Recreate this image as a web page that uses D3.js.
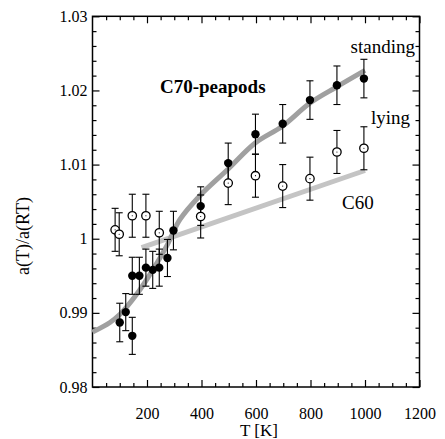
<!DOCTYPE html>
<html><head><meta charset="utf-8"><script src="https://cdn.jsdelivr.net/npm/d3@7"></script>
<style>
  @font-face {
    font-family: "ChartSerif";
    src: local("Liberation Serif"), local("LiberationSerif"), local("LiberationSerif-Regular"),
         url("file:///usr/share/fonts/truetype/liberation/LiberationSerif-Regular.ttf");
    font-weight: normal;
  }
  @font-face {
    font-family: "ChartSerif";
    src: local("Liberation Serif Bold"), local("LiberationSerif-Bold"),
         url("file:///usr/share/fonts/truetype/liberation/LiberationSerif-Bold.ttf");
    font-weight: bold;
  }
  #chart text { font-family: "Liberation Serif", "ChartSerif", "Times New Roman", Times, "DejaVu Serif", serif; }
</style>
</head>
<body style="margin:0">
<div id="chart"></div>
<script>

/* DATA */

// filled circles, "standing"
const standingT   = [100, 122, 146, 146, 172, 196, 221, 245, 275, 297, 397, 498, 598, 698, 798, 897, 996];
const standingVal = [0.9887, 0.9901, 0.9869, 0.9950, 0.9950, 0.9961, 0.9958, 0.9961, 0.9974, 1.0011,
                     1.0044, 1.0102, 1.0141, 1.0155, 1.0187, 1.0207, 1.0216];
const standingErr = [0.0026, 0.0025, 0.0025, 0.0025, 0.0025, 0.0025, 0.0025, 0.0025, 0.0025, 0.0026,
                     0.0026, 0.0027, 0.0027, 0.0026, 0.0026, 0.0026, 0.0026];

// open circles, "lying"
const lyingT   = [83, 98, 146, 196, 245, 397, 498, 598, 698, 798, 897, 996];
const lyingVal = [1.0012, 1.0006, 1.0031, 1.0031, 1.0008, 1.0030, 1.0075, 1.0085, 1.0071, 1.0081, 1.0117, 1.0122];
const lyingErr = [0.0029, 0.0029, 0.0029, 0.0029, 0.0029, 0.0029, 0.0029, 0.0029, 0.0029, 0.0029, 0.0029, 0.0029];

// thick gray guide curves
const standingCurveT   = [0, 64, 101, 162, 223, 272, 321, 394, 498, 597, 698, 798, 897, 1000];
const standingCurveVal = [0.9874, 0.9887, 0.9898, 0.9925, 0.9959, 0.9990, 1.0026, 1.0058, 1.0094, 1.0129,
                          1.0152, 1.0183, 1.0205, 1.0227];
const c60T   = [180, 1000];
const c60Val = [0.9988, 1.0092];

const xTicks = [200, 400, 600, 800, 1000, 1200];
const yTicks = [0.98, 0.99, 1.00, 1.01, 1.02, 1.03];

/* LAYOUT */

const width = 445;
const height = 439;
const plot = { left: 92.5, right: 419.5, top: 16.3, bottom: 387 };
const FONT = "Liberation Serif, ChartSerif, Times New Roman, Times, DejaVu Serif, serif";

const xScale = d3.scaleLinear().domain([0, 1200]).range([plot.left, plot.right]);
const yScale = d3.scaleLinear().domain([0.98, 1.03]).range([plot.bottom, plot.top]);

const svg = d3.select("#chart")
  .append("svg")
  .attr("width", width)
  .attr("height", height)
  .attr("font-family", FONT);

// AXES (ticks point inward on all four sides) ==============
const yFmt = d => d === 1 ? "1" : d3.format(".2f")(d);

const minorX = d3.range(50, 1200, 50).filter(d => d % 200 !== 0);
const minorY = d3.range(0.982, 1.03, 0.002).filter(d => Math.abs(d * 100 - Math.round(d * 100)) > 1e-6);

function addAxis(axis, transform, showLabels) {
  const g = svg.append("g")
    .attr("transform", transform)
    .call(axis)
    .attr("font-family", FONT)
    .attr("font-size", 16);
  g.select(".domain").remove();
  g.selectAll("line").attr("stroke", "#000").attr("stroke-width", 1.2);
  g.selectAll("text")
    .attr("font-family", FONT)
    .attr("font-size", 16)
    .attr("fill", "#000");
  if (!showLabels) g.selectAll("text").remove();
  return g;
}

// bottom
addAxis(d3.axisBottom(xScale).tickValues(xTicks).tickSize(-7).tickPadding(21).tickFormat(d3.format("d")).tickSizeOuter(0),
  `translate(0,${plot.bottom})`, true);
addAxis(d3.axisBottom(xScale).tickValues(minorX).tickSize(-4).tickFormat(""),
  `translate(0,${plot.bottom})`, false);
// top
addAxis(d3.axisTop(xScale).tickValues(xTicks).tickSize(-7).tickSizeOuter(0),
  `translate(0,${plot.top})`, false);
addAxis(d3.axisTop(xScale).tickValues(minorX).tickSize(-4),
  `translate(0,${plot.top})`, false);
// left
addAxis(d3.axisLeft(yScale).tickValues(yTicks).tickSize(-7).tickPadding(5).tickFormat(yFmt).tickSizeOuter(0),
  `translate(${plot.left},0)`, true);
addAxis(d3.axisLeft(yScale).tickValues(minorY).tickSize(-4).tickFormat(""),
  `translate(${plot.left},0)`, false);
// right
addAxis(d3.axisRight(yScale).tickValues(yTicks).tickSize(-7).tickSizeOuter(0),
  `translate(${plot.right},0)`, false);
addAxis(d3.axisRight(yScale).tickValues(minorY).tickSize(-4),
  `translate(${plot.right},0)`, false);

// frame
svg.append("rect")
  .attr("x", plot.left)
  .attr("y", plot.top)
  .attr("width", plot.right - plot.left)
  .attr("height", plot.bottom - plot.top)
  .attr("fill", "none")
  .attr("stroke", "#000")
  .attr("stroke-width", 1.5);

// axis titles
svg.append("text")
  .attr("x", (plot.left + plot.right) / 2 + 3)
  .attr("y", 436)
  .attr("text-anchor", "middle")
  .attr("font-size", 17)
  .text("T [K]");

svg.append("text")
  .attr("transform", "translate(29,236) rotate(-90)")
  .attr("text-anchor", "middle")
  .attr("font-size", 18)
  .text("a(T)/a(RT)");

// GUIDE CURVES ============================================
const line = d3.line()
  .x(d => xScale(d[0]))
  .y(d => yScale(d[1]));

svg.append("path")
  .datum(c60T.map((t, i) => [t, c60Val[i]]))
  .attr("d", line)
  .attr("fill", "none")
  .attr("stroke", "#c4c4c4")
  .attr("stroke-width", 5);

svg.append("path")
  .datum(standingCurveT.map((t, i) => [t, standingCurveVal[i]]))
  .attr("d", line.curve(d3.curveCatmullRom))
  .attr("fill", "none")
  .attr("stroke", "#a0a0a0")
  .attr("stroke-width", 5);

// ERROR BARS + MARKERS ====================================
const standing = standingT.map((t, i) => ({ t, v: standingVal[i], e: standingErr[i] }));
const lying = lyingT.map((t, i) => ({ t, v: lyingVal[i], e: lyingErr[i] }));

function errorBars(data, cls) {
  const g = svg.append("g").attr("class", cls);
  g.selectAll("line.bar")
    .data(data)
    .join("line")
    .attr("x1", d => xScale(d.t))
    .attr("x2", d => xScale(d.t))
    .attr("y1", d => yScale(d.v - d.e))
    .attr("y2", d => yScale(d.v + d.e))
    .attr("stroke", "#000")
    .attr("stroke-width", 1.1);
  [-1, 1].forEach(s => {
    g.selectAll(`line.cap${s}`)
      .data(data)
      .join("line")
      .attr("x1", d => xScale(d.t) - 3.5)
      .attr("x2", d => xScale(d.t) + 3.5)
      .attr("y1", d => yScale(d.v + s * d.e))
      .attr("y2", d => yScale(d.v + s * d.e))
      .attr("stroke", "#000")
      .attr("stroke-width", 1.1);
  });
}

errorBars(lying, "lying-err");
errorBars(standing, "standing-err");

svg.selectAll("circle.open")
  .data(lying)
  .join("circle")
  .attr("class", "open")
  .attr("cx", d => xScale(d.t))
  .attr("cy", d => yScale(d.v))
  .attr("r", 4.2)
  .attr("fill", "#fff")
  .attr("stroke", "#000")
  .attr("stroke-width", 1.3);

svg.selectAll("circle.open-dot")
  .data(lying)
  .join("circle")
  .attr("class", "open-dot")
  .attr("cx", d => xScale(d.t))
  .attr("cy", d => yScale(d.v))
  .attr("r", 0.6)
  .attr("fill", "#000");

svg.selectAll("circle.filled")
  .data(standing)
  .join("circle")
  .attr("class", "filled")
  .attr("cx", d => xScale(d.t))
  .attr("cy", d => yScale(d.v))
  .attr("r", 4.2)
  .attr("fill", "#000");

// LABELS ==================================================
const labels = [
  { text: "standing", x: 415, y: 53, anchor: "end", weight: "normal" },
  { text: "lying", x: 410, y: 124, anchor: "end", weight: "normal" },
  { text: "C60", x: 342, y: 209, anchor: "start", weight: "normal" },
  { text: "C70-peapods", x: 160, y: 93, anchor: "start", weight: "bold" }
];

svg.selectAll("text.label")
  .data(labels)
  .join("text")
  .attr("class", "label")
  .attr("x", d => d.x)
  .attr("y", d => d.y)
  .attr("text-anchor", d => d.anchor)
  .attr("font-size", 19)
  .attr("font-weight", d => d.weight)
  .text(d => d.text);

</script>
</body>
</html>
